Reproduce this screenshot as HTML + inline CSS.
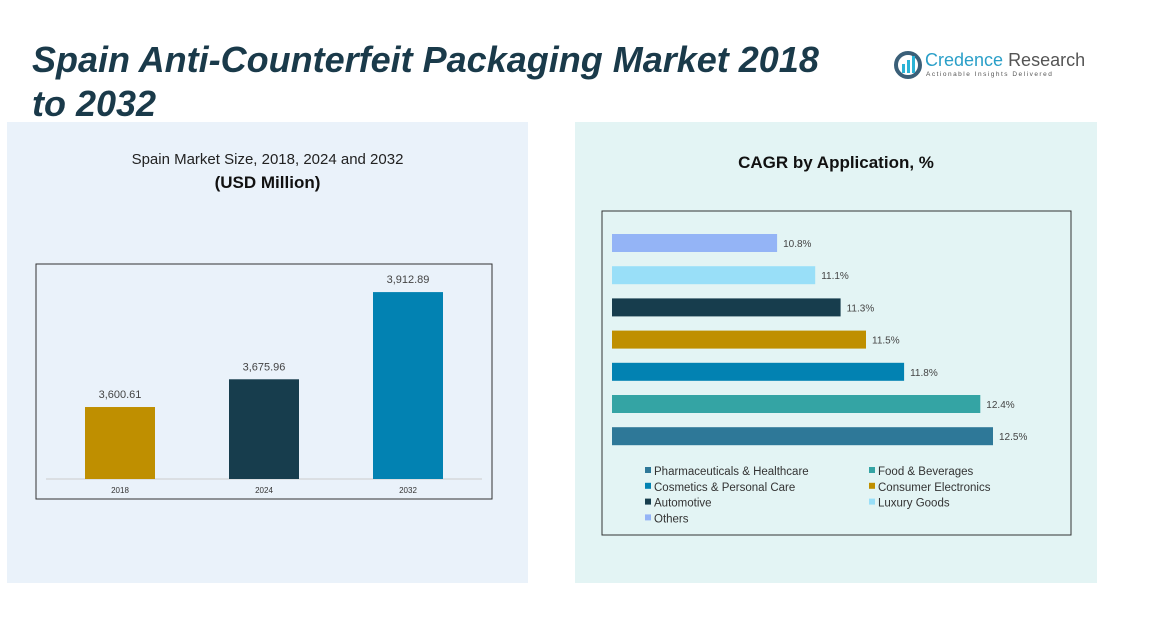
<!DOCTYPE html>
<html><head><meta charset="utf-8">
<style>
body{margin:0;width:1151px;height:630px;background:#fff;position:relative;overflow:hidden;font-family:"Liberation Sans",sans-serif}
.abs{position:absolute}
</style></head>
<body>
<div class="abs" style="left:32px;top:38px;font-size:36px;font-weight:bold;font-style:italic;color:#1a3a4a;line-height:44px;width:830px">Spain Anti-Counterfeit Packaging Market 2018 to 2032</div>
<div class="abs" style="left:893px;top:48px;width:190px;height:36px">
 <svg width="30" height="30" style="position:absolute;left:0;top:2px"><circle cx="15" cy="15" r="12" fill="none" stroke="#3a5f78" stroke-width="4"/><rect x="9" y="14" width="3" height="9" fill="#2bb3d6"/><rect x="14" y="10" width="3" height="13" fill="#2bb3d6"/><rect x="19" y="6" width="3" height="17" fill="#2bb3d6"/></svg>
 <div class="abs" style="left:32px;top:2px;font-size:18px;color:#2a9fc8;white-space:nowrap">Credence <span style="color:#555">Research</span></div>
 <div class="abs" style="left:33px;top:23px;font-size:6.5px;letter-spacing:1.5px;color:#555;white-space:nowrap">Actionable Insights Delivered</div>
</div>
<div class="abs" style="left:7px;top:122px;width:521px;height:461px;background:#eaf2fa"></div>
<div class="abs" style="left:575px;top:122px;width:522px;height:461px;background:#e3f4f4"></div>
<div class="abs" style="left:7px;top:151px;width:521px;text-align:center;font-size:15px;color:#222">Spain Market Size, 2018, 2024 and 2032</div>
<div class="abs" style="left:7px;top:173px;width:521px;text-align:center;font-size:17px;font-weight:bold;color:#111">(USD Million)</div>
<div class="abs" style="left:575px;top:153px;width:522px;text-align:center;font-size:17px;font-weight:bold;color:#111">CAGR by Application, %</div>
<svg class="abs" style="left:0;top:0" width="1151" height="630" id="svg"></svg>
<script>
const years=["2018","2024","2032"];
const sizes=[3600.61,3675.96,3912.89];
const sizeColors=["#bf8f00","#173d4d","#0282b2"];
const apps=["Others","Luxury Goods","Automotive","Consumer Electronics","Cosmetics & Personal Care","Food & Beverages","Pharmaceuticals & Healthcare"];
const cagr=[10.8,11.1,11.3,11.5,11.8,12.4,12.5];
const appColors=["#94b4f6","#99dff8","#173d4d","#bf8f00","#0282b2","#34a4a4","#2e7898"];
const legendOrder=[6,5,4,3,2,1,0];
const NS="http://www.w3.org/2000/svg";
const svg=document.getElementById('svg');
function mk(t,a,txt){const e=document.createElementNS(NS,t);for(const k in a)e.setAttribute(k,a[k]);if(txt!==undefined)e.textContent=txt;svg.appendChild(e);return e;}
let e=mk('rect',{x:36,y:264,width:456,height:235,fill:'none',stroke:'#333','stroke-width':1});


const base=479,vmin=3405,vs=0.368;
function yv(v){return base-(v-vmin)*vs;}
function xc(i){return 120+i*144;}
e=mk('line',{x1:46,x2:482,y1:base,y2:base,stroke:'#ccc'});


years.forEach((y,i)=>{
 let r=mk('rect',{x:xc(i)-35,y:yv(sizes[i]),width:70,height:base-yv(sizes[i]),fill:sizeColors[i]});
 
 
 let t=mk('text',{x:xc(i),y:yv(sizes[i])-9,'text-anchor':'middle','font-size':11,fill:'#444'},sizes[i].toLocaleString('en-US',{minimumFractionDigits:2}));
 
 
 let l=mk('text',{x:xc(i),y:493,'text-anchor':'middle','font-size':8,fill:'#333'},y);
 
 
});
e=mk('rect',{x:602,y:211,width:469,height:324,fill:'none',stroke:'#333','stroke-width':1});


const x0=612,cmin=9.5,cs=127;
function xw(v){return (v-cmin)*cs;}
apps.forEach((a,i)=>{
 const cy=243+i*32.2;
 let r=mk('rect',{x:x0,y:cy-9,width:xw(cagr[i]),height:18,fill:appColors[i]});
 
 
 let t=mk('text',{x:x0+xw(cagr[i])+6,y:cy+4,'font-size':10,fill:'#444'},cagr[i].toFixed(1)+'%');
 
 
});
legendOrder.forEach((idx,k)=>{
 const lx=645+(k%2)*224, ly=471+Math.floor(k/2)*15.8;
 let s=mk('rect',{x:lx,y:ly-4,width:6,height:6,fill:appColors[idx]});
 
 
 let t=mk('text',{x:lx+9,y:ly+4,'font-size':11.5,fill:'#333'},apps[idx]);
 
 
});
</script>
</body></html>
